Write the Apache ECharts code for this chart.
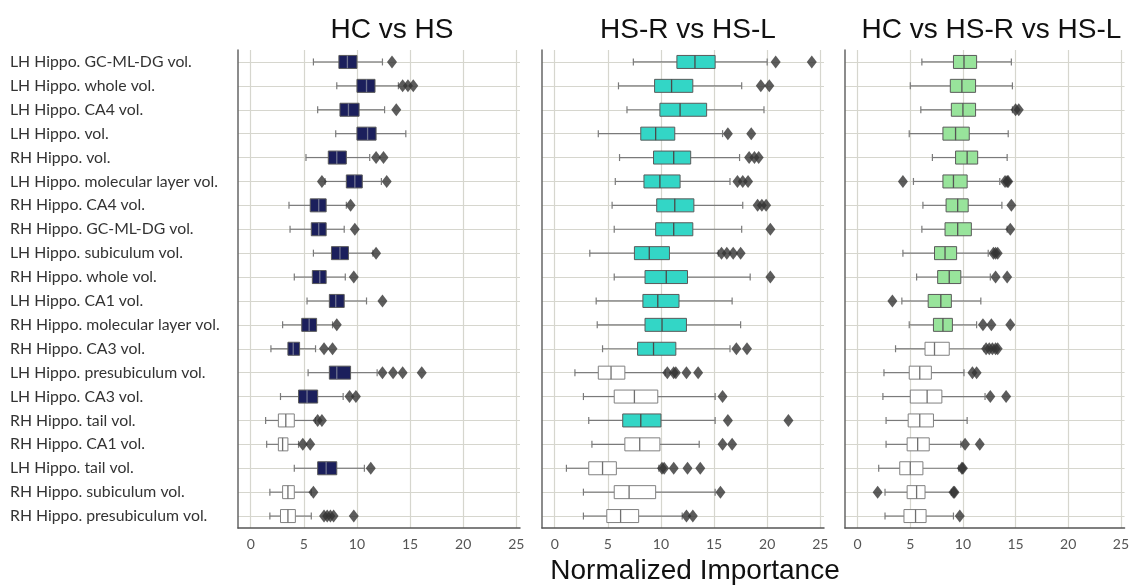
<!DOCTYPE html>
<html>
<head>
<meta charset="utf-8">
<script src="https://cdn.jsdelivr.net/npm/echarts@6/dist/echarts.min.js"></script>
<style>
html,body{margin:0;padding:0;background:#fff;}
#chart{width:1132px;height:586px;}
</style>
</head>
<body>
<div id="chart"></div>
<script>
// ---------- DATA ----------
const categories = [
  "LH Hippo. GC-ML-DG vol.",
  "LH Hippo. whole vol.",
  "LH Hippo. CA4 vol.",
  "LH Hippo. vol.",
  "RH Hippo. vol.",
  "LH Hippo. molecular layer vol.",
  "RH Hippo. CA4 vol.",
  "RH Hippo. GC-ML-DG vol.",
  "LH Hippo. subiculum vol.",
  "RH Hippo. whole vol.",
  "LH Hippo. CA1 vol.",
  "RH Hippo. molecular layer vol.",
  "RH Hippo. CA3 vol.",
  "LH Hippo. presubiculum vol.",
  "LH Hippo. CA3 vol.",
  "RH Hippo. tail vol.",
  "RH Hippo. CA1 vol.",
  "LH Hippo. tail vol.",
  "RH Hippo. subiculum vol.",
  "RH Hippo. presubiculum vol."
];
const panelTitles = ["HC vs HS", "HS-R vs HS-L", "HC vs HS-R vs HS-L"];
const xTicks = [0, 5, 10, 15, 20, 25];
const xAxisName = "Normalized Importance";

// [whisker low, Q1, median, Q3, whisker high]
const hcHsBox = [
  [5.9, 8.3, 9.1, 10.0, 12.4], [8.1, 10.0, 10.9, 11.7, 13.9], [6.3, 8.4, 9.2, 10.2, 12.6],
  [8.0, 10.0, 11.0, 11.8, 14.6], [5.2, 7.3, 8.1, 9.0, 11.2], [7.0, 9.0, 9.8, 10.5, 12.3],
  [3.6, 5.6, 6.4, 7.1, 9.0], [3.7, 5.7, 6.4, 7.1, 8.8], [5.9, 7.6, 8.4, 9.2, 11.5],
  [4.1, 5.8, 6.5, 7.1, 8.9], [5.3, 7.4, 8.0, 8.8, 10.9], [3.0, 4.8, 5.5, 6.2, 7.7],
  [1.9, 3.5, 4.0, 4.6, 6.1], [5.4, 7.4, 8.1, 9.4, 11.9], [2.8, 4.5, 5.3, 6.3, 8.7],
  [1.4, 2.6, 3.3, 4.1, 6.1], [1.5, 2.6, 3.0, 3.5, 4.5], [4.1, 6.3, 7.1, 8.1, 10.7],
  [1.8, 3.0, 3.5, 4.1, 5.7], [1.8, 2.8, 3.5, 4.2, 5.7]
];
const hcHsOut = [
  [13.3], [14.3, 14.8, 15.3], [13.7], [], [11.8, 12.5], [6.7, 12.8], [9.4], [9.8], [11.8], [9.7],
  [12.4], [8.1], [6.9, 7.7], [12.4, 13.4, 14.3, 16.1], [9.3, 9.9], [6.3, 6.7], [4.9, 5.6], [11.3], [5.9],
  [6.9, 7.2, 7.5, 7.8, 9.7]
];
const hcHsSig = [1,1,1,1,1,1,1,1,1,1,1,1,1,1,1,0,0,1,0,0];

const rlBox = [
  [7.4, 11.5, 13.2, 15.1, 20.0], [6.0, 9.4, 11.0, 13.0, 17.6], [6.8, 9.9, 11.8, 14.3, 19.7],
  [4.1, 8.1, 9.5, 11.3, 15.8], [6.1, 9.3, 11.2, 12.8, 17.4], [5.7, 8.4, 9.9, 11.8, 16.5],
  [5.4, 9.6, 11.3, 13.1, 17.7], [5.6, 9.5, 11.2, 13.0, 17.6], [3.3, 7.5, 8.9, 10.8, 15.4],
  [5.6, 8.5, 10.5, 12.5, 18.4], [3.9, 8.3, 9.7, 11.7, 16.7], [4.0, 8.5, 10.1, 12.4, 17.5],
  [4.5, 7.8, 9.3, 11.4, 16.5], [1.9, 4.1, 5.3, 6.6, 10.4], [2.7, 5.6, 7.5, 9.7, 15.1],
  [3.2, 6.4, 8.1, 10.0, 15.1], [3.5, 6.6, 8.0, 9.9, 13.6], [1.1, 3.2, 4.5, 5.8, 9.8],
  [2.7, 5.6, 7.0, 9.5, 15.1], [2.7, 4.9, 6.2, 7.9, 12.0]
];
const rlOut = [
  [20.8, 24.2], [19.4, 20.2], [], [16.3, 18.5], [18.3, 18.8, 19.2], [17.2, 17.7, 18.2],
  [19.1, 19.5, 19.9], [20.3], [15.7, 16.2, 16.8, 17.5], [20.3], [], [], [17.1, 18.1],
  [10.6, 11.2, 11.4, 12.4, 13.5], [15.8], [16.3, 22.0], [15.8, 16.7],
  [10.1, 10.3, 11.2, 12.5, 13.7], [15.6], [12.4, 13.0]
];
const rlSig = [1,1,1,1,1,1,1,1,1,1,1,1,1,0,0,1,0,0,0,0];

const hcRlBox = [
  [6.1, 9.1, 10.1, 11.3, 14.6], [5.0, 8.8, 9.9, 11.2, 14.7], [6.0, 8.9, 10.0, 11.2, 14.7],
  [4.9, 8.1, 9.3, 10.6, 14.3], [7.1, 9.3, 10.4, 11.4, 14.2], [5.3, 8.1, 9.1, 10.4, 13.5],
  [6.2, 8.4, 9.5, 10.5, 13.7], [6.1, 8.3, 9.5, 10.8, 14.2], [4.3, 7.3, 8.3, 9.4, 12.4],
  [5.6, 7.6, 8.7, 9.8, 12.6], [4.2, 6.7, 7.9, 8.9, 11.7], [4.9, 7.2, 8.1, 9.0, 11.3],
  [3.6, 6.4, 7.3, 8.7, 12.0], [2.5, 4.9, 5.9, 7.0, 10.1], [2.4, 5.0, 6.6, 8.0, 12.1],
  [2.7, 4.8, 5.9, 7.2, 10.4], [2.7, 4.7, 5.7, 6.8, 9.8], [2.0, 4.0, 5.0, 6.2, 9.6],
  [2.6, 4.7, 5.6, 6.4, 8.9], [2.6, 4.4, 5.5, 6.5, 9.1]
];
const hcRlOut = [
  [], [], [15.0, 15.3], [], [], [4.3, 14.0, 14.2, 14.3], [14.6], [14.5], [12.9, 13.1, 13.3],
  [13.1, 14.2], [3.3], [11.9, 12.7, 14.5], [12.2, 12.5, 12.8, 13.1, 13.3], [10.9, 11.3],
  [12.6, 14.1], [], [10.2, 11.6], [9.9, 10.0], [1.9, 9.1, 9.2], [9.7]
];
const hcRlSig = [1,1,1,1,1,1,1,1,1,1,1,1,0,0,0,0,0,0,0,0];

// ---------- STYLE / LAYOUT ----------
const panelColors = ["#1b1f5c", "#33d6c6", "#98e49b"];
const medianColors = ["#6f7390", "#4a4a4a", "#555"];
const grids = [
  { left: 238, right: 612, top: 50, bottom: 58 },
  { left: 542, right: 308, top: 50, bottom: 58 },
  { left: 845, right: 4, top: 50, bottom: 58 }
];
const panels = [
  { box: hcHsBox, out: hcHsOut, sig: hcHsSig },
  { box: rlBox, out: rlOut, sig: rlSig },
  { box: hcRlBox, out: hcRlOut, sig: hcRlSig }
];

function makeRender(fill, medColor) {
  return function (params, api) {
    const yi = api.value(0);
    const lo = api.coord([api.value(1), yi]);
    const q1 = api.coord([api.value(2), yi]);
    const md = api.coord([api.value(3), yi]);
    const q3 = api.coord([api.value(4), yi]);
    const hi = api.coord([api.value(5), yi]);
    const sig = api.value(6);
    const cy = lo[1];
    const h = 13, cap = 3.5;
    const wStyle = { stroke: "#7a7a7a", lineWidth: 1.2 };
    return {
      type: "group",
      children: [
        { type: "line", shape: { x1: lo[0], y1: cy, x2: q1[0], y2: cy }, style: wStyle },
        { type: "line", shape: { x1: q3[0], y1: cy, x2: hi[0], y2: cy }, style: wStyle },
        { type: "line", shape: { x1: lo[0], y1: cy - cap, x2: lo[0], y2: cy + cap }, style: wStyle },
        { type: "line", shape: { x1: hi[0], y1: cy - cap, x2: hi[0], y2: cy + cap }, style: wStyle },
        { type: "rect", shape: { x: q1[0], y: cy - h / 2, width: q3[0] - q1[0], height: h },
          style: { fill: sig ? fill : "#ffffff", stroke: sig ? "#5a5a5a" : "#808080", lineWidth: 1 } },
        { type: "line", shape: { x1: md[0], y1: cy - h / 2, x2: md[0], y2: cy + h / 2 },
          style: { stroke: sig ? medColor : "#707070", lineWidth: 1.3 } }
      ]
    };
  };
}

const xAxes = [], yAxes = [], series = [], titles = [];
panels.forEach((p, k) => {
  xAxes.push({
    gridIndex: k, type: "value", min: -1.2, max: 25.35,
    axisLine: { show: true, onZero: false, lineStyle: { color: "#555", width: 1.5 } },
    axisTick: { show: false, customValues: xTicks },
    axisLabel: { customValues: xTicks, color: "#555", fontSize: 14, fontFamily: "Lato", margin: 9 },
    splitLine: { show: true, lineStyle: { color: "#d6d6ce", width: 1.2 } }
  });
  yAxes.push({
    gridIndex: k, type: "category", data: categories, inverse: true,
    axisLine: { show: true, onZero: false, lineStyle: { color: "#666", width: 1.5 } },
    axisTick: { show: false },
    axisLabel: k === 0 ? { show: true, align: "left", margin: 228, color: "#333", fontSize: 15.8, fontFamily: "Lato" } : { show: false },
    splitLine: { show: true, alignWithLabel: true, lineStyle: { color: "#d6d6ce", width: 1.2 } }
  });
  const boxData = p.box.map((b, i) => [i, b[0], b[1], b[2], b[3], b[4], p.sig[i]]);
  series.push({
    type: "custom", xAxisIndex: k, yAxisIndex: k,
    renderItem: makeRender(panelColors[k], medianColors[k]),
    encode: { x: [1, 2, 3, 4, 5], y: 0 },
    data: boxData, z: 3, silent: true
  });
  const outData = [];
  p.out.forEach((arr, i) => arr.forEach(v => outData.push([v, i])));
  series.push({
    type: "scatter", xAxisIndex: k, yAxisIndex: k,
    symbol: "diamond", symbolSize: [10, 13],
    itemStyle: { color: "#333333" },
    data: outData, z: 4, silent: true
  });
  const g = grids[k];
  const left = g.left, width = 1132 - g.left - g.right;
  titles.push({
    text: panelTitles[k], left: left + width / 2 + (k === 0 ? 8 : 0), top: 11, textAlign: "center",
    textStyle: { fontFamily: "Liberation Sans", fontSize: 28, fontWeight: "normal", color: "#111" }
  });
});
titles.push({
  text: xAxisName, left: 690, top: 552, textAlign: "center",
  textStyle: { fontFamily: "Liberation Sans", fontSize: 28, fontWeight: "normal", color: "#111" }
});

const chart = echarts.init(document.getElementById("chart"), null, { renderer: "canvas" });
chart.setOption({
  backgroundColor: "#ffffff",
  animation: false,
  title: titles,
  grid: grids,
  xAxis: xAxes,
  yAxis: yAxes,
  series: series
});
</script>
</body>
</html>
